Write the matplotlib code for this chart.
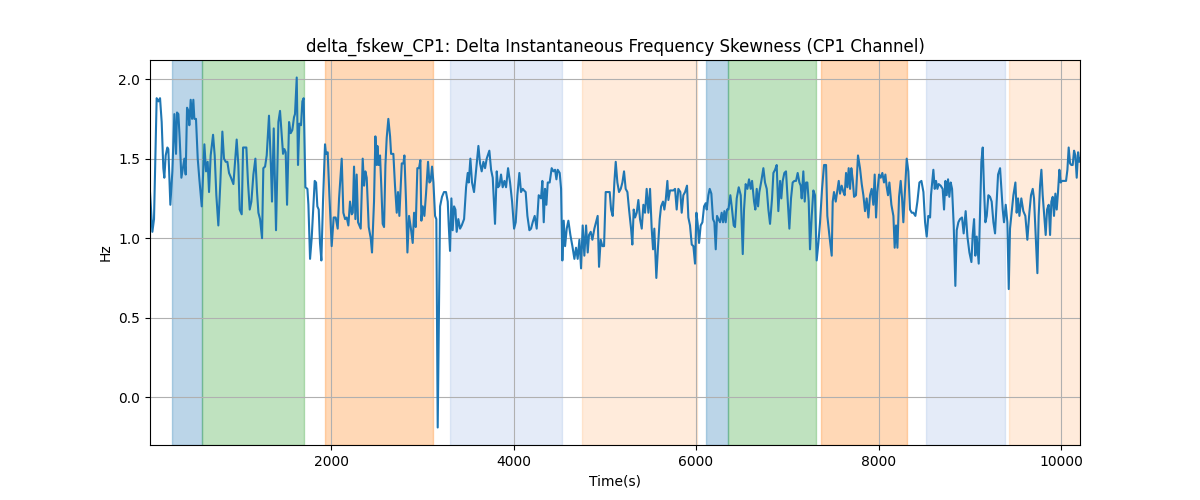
import numpy as np
import matplotlib.pyplot as plt

time_s = [
    16, 42, 60, 89, 108, 126, 144, 162, 173, 188, 206, 217, 239, 261, 283, 301, 312, 327, 341, 360,
    374, 393, 407, 422, 436, 447, 462, 477, 491, 502, 520, 539, 557, 583, 612, 630, 648, 663, 681, 707,
    725, 743, 765, 787, 809, 827, 846, 864, 882, 904, 930, 948, 966, 984, 999, 1021, 1036, 1054, 1072, 1090,
    1109, 1127, 1149, 1171, 1189, 1204, 1222, 1244, 1258, 1277, 1295, 1320, 1342, 1353, 1372, 1397, 1423, 1441, 1459, 1474,
    1489, 1503, 1518, 1540, 1558, 1576, 1594, 1605, 1624, 1638, 1653, 1671, 1686, 1700, 1719, 1741, 1752, 1770, 1788, 1803,
    1821, 1836, 1850, 1865, 1879, 1894, 1912, 1934, 1945, 1963, 1982, 2007, 2029, 2051, 2073, 2088,
    2117, 2135, 2154, 2172, 2190, 2208, 2227, 2238, 2252, 2267, 2281, 2296, 2311, 2325, 2347, 2362, 2376, 2391, 2413, 2435,
    2449, 2471, 2486, 2501, 2508, 2522, 2537, 2552, 2566, 2581, 2596, 2610, 2628, 2647, 2658, 2683, 2701, 2720, 2734, 2749,
    2775, 2793, 2804, 2822, 2837, 2855, 2873, 2895, 2910, 2928, 2946, 2964, 2979, 2990, 3005, 3023, 3041, 3063, 3078, 3092,
    3107, 3122, 3140, 3154, 3169, 3195, 3216, 3238, 3260, 3279, 3290, 3304, 3319, 3333, 3348, 3363, 3377, 3395, 3414, 3432,
    3458, 3480, 3498, 3509, 3527, 3545, 3567, 3589, 3615, 3633, 3651, 3670, 3688, 3706, 3735, 3754, 3772, 3797, 3816, 3830,
    3845, 3863, 3881, 3900, 3918, 3940, 3962, 3984, 4006, 4024, 4042, 4064, 4082, 4101, 4115, 4133, 4152, 4174, 4192, 4210,
    4232, 4254, 4276, 4290,
    4301, 4316, 4331, 4345, 4360, 4375, 4396, 4418, 4437, 4455, 4470, 4484, 4506, 4521, 4535, 4550, 4565, 4583, 4601, 4623,
    4645, 4667, 4685, 4703, 4722, 4740, 4758, 4776, 4795, 4813, 4827, 4846, 4864, 4886, 4904, 4922, 4937, 4955, 4974, 4992,
    5010, 5032, 5054, 5069, 5087, 5105, 5120, 5138, 5156, 5175, 5193, 5211, 5229, 5248, 5266, 5288, 5302, 5317, 5332, 5350,
    5368, 5386, 5405, 5423, 5441, 5459, 5478, 5496, 5514, 5529, 5543, 5565, 5584, 5602, 5617, 5638, 5653, 5668, 5686, 5697,
    5715, 5733, 5752, 5770, 5788, 5806, 5828, 5843, 5861, 5880, 5901, 5916, 5934, 5953, 5971, 5989, 6004, 6018, 6033, 6051,
    6070, 6088, 6106, 6117, 6135, 6150, 6168, 6186, 6201, 6216, 6230, 6245, 6263, 6281, 6296, 6311, 6325, 6340, 6355, 6376,
    6391, 6413, 6427,
    6446, 6468, 6490, 6512, 6526, 6544, 6563, 6581, 6599, 6614, 6636, 6650, 6665, 6680, 6694, 6716, 6738, 6756, 6775, 6793,
    6811, 6833, 6848, 6866, 6884, 6902, 6921, 6935, 6950, 6968, 6986, 7001, 7023, 7041, 7059, 7078, 7096, 7114, 7133, 7147,
    7158, 7176, 7191, 7206, 7220, 7235, 7249, 7268, 7286, 7304, 7322, 7341, 7359, 7381, 7403, 7425, 7439, 7461, 7487, 7498,
    7512, 7531, 7549, 7564, 7578, 7596, 7615, 7629, 7644, 7659, 7673, 7688, 7702, 7717, 7732, 7753, 7775, 7797, 7816, 7834,
    7852, 7870, 7889, 7907, 7925, 7943, 7958, 7973, 7987, 8006, 8024, 8042, 8060, 8075, 8090, 8104, 8119, 8141, 8163, 8177,
    8192, 8207, 8225, 8243, 8258, 8272, 8287, 8309, 8327, 8345, 8364, 8382, 8404, 8426, 8448, 8470, 8492, 8510, 8528, 8546,
    8565,
    8575, 8601, 8616, 8630, 8645, 8659, 8681, 8703, 8718, 8733, 8747, 8762, 8776, 8791, 8806, 8824, 8842, 8857, 8875, 8893,
    8915, 8933, 8955, 8974, 8996, 9018, 9032, 9047, 9061, 9076, 9098, 9112, 9127, 9142, 9156, 9171, 9186, 9204, 9222, 9240,
    9259, 9277, 9295, 9310, 9332, 9346, 9361, 9375, 9394, 9412, 9427, 9441, 9460, 9478, 9500, 9514, 9529, 9544, 9565, 9587,
    9609, 9631, 9653, 9671, 9690, 9704, 9726, 9741, 9755, 9770, 9785, 9799, 9814, 9832, 9847, 9865, 9880, 9894, 9909, 9923,
    9938, 9953, 9967, 9982, 9996, 10011, 10033, 10055, 10070, 10084, 10099, 10113, 10128, 10143, 10157, 10172, 10187, 10201, 10208,
]

skew_hz = [
    1.29, 1.04, 1.12, 1.88, 1.86, 1.88, 1.73, 1.44, 1.38, 1.52, 1.57, 1.56, 1.21, 1.42, 1.78, 1.53, 1.79, 1.78, 1.63, 1.38,
    1.43, 1.50, 1.40, 1.82, 1.80, 1.71, 1.87, 1.75, 1.87, 1.75, 1.75, 1.50, 1.37, 1.20, 1.59, 1.42, 1.48, 1.29, 1.52, 1.65,
    1.52, 1.27, 1.08, 1.35, 1.67, 1.50, 1.48, 1.48, 1.41, 1.38, 1.34, 1.48, 1.62, 1.46, 1.18, 1.15, 1.57, 1.57, 1.57, 1.35,
    1.18, 1.23, 1.40, 1.50, 1.29, 1.16, 1.12, 1.00, 1.44, 1.45, 1.52, 1.77, 1.44, 1.23, 1.69, 1.05, 1.73, 1.80, 1.65, 1.53,
    1.56, 1.54, 1.21, 1.73, 1.66, 1.68, 1.76, 1.78, 2.01, 1.46, 1.72, 1.71, 1.86, 1.88, 1.32, 1.31, 1.21, 0.87, 1.00, 1.16,
    1.36, 1.35, 1.20, 1.18, 0.97, 0.86, 1.23, 1.59, 1.53, 1.54, 1.27, 0.95, 1.13, 1.13, 1.06, 1.25,
    1.50, 1.16, 1.12, 1.13, 1.08, 1.23, 1.15, 1.16, 1.45, 1.12, 1.40, 1.10, 1.08, 1.06, 1.50, 1.33, 1.42, 1.38, 1.07, 1.00,
    0.91, 1.23, 1.64, 1.46, 1.58, 1.46, 1.52, 1.31, 1.09, 1.07, 1.46, 1.63, 1.75, 1.64, 1.53, 1.53, 1.33, 1.16, 1.29, 1.14,
    1.47, 1.47, 1.52, 1.23, 0.91, 1.14, 1.07, 0.97, 1.16, 1.07, 1.44, 1.44, 1.49, 1.11, 1.20, 1.14, 1.28, 1.48, 1.35, 1.36,
    1.45, 1.35, 1.14, 1.12, -0.19, 1.20, 1.26, 1.29, 1.29, 1.23, 1.08, 0.92, 1.25, 1.05, 1.20, 1.18, 1.04, 1.12, 1.06, 1.08,
    1.12, 1.32, 1.41, 1.35, 1.50, 1.35, 1.29, 1.42, 1.58, 1.47, 1.42, 1.48, 1.44, 1.50, 1.55, 1.43, 1.38, 1.09, 1.42, 1.32,
    1.33, 1.40, 1.32, 1.36, 1.32, 1.44, 1.35, 1.23, 1.06, 1.10, 1.27, 1.41, 1.29, 1.31, 1.30, 1.29, 1.14, 1.05, 1.06, 1.10,
    1.14, 1.06, 1.27, 1.26,
    1.25, 1.36, 1.10, 1.31, 1.21, 1.35, 1.35, 1.44, 1.42, 1.43, 1.37, 1.43, 1.41, 1.31, 0.86, 1.11, 0.95, 1.06, 1.11, 1.02,
    0.95, 0.87, 0.94, 0.87, 0.99, 0.81, 1.08, 0.89, 1.08, 0.91, 1.02, 1.04, 0.99, 1.06, 1.10, 1.14, 0.82, 0.99, 0.95, 0.95,
    1.29, 1.29, 1.29, 1.18, 1.14, 1.35, 1.48, 1.35, 1.29, 1.31, 1.35, 1.42, 1.31, 1.29, 1.18, 1.06, 0.96, 1.18, 1.13, 1.16,
    1.24, 1.12, 1.06, 1.21, 1.16, 1.31, 1.16, 1.31, 1.06, 0.93, 1.06, 0.75, 0.95, 1.12, 1.20, 1.23, 1.18, 1.24, 1.36, 1.24,
    1.30, 1.30, 1.30, 1.31, 1.18, 1.31, 1.29, 1.16, 1.27, 1.29, 1.33, 1.13, 1.08, 0.96, 0.95, 0.84, 1.16, 1.09, 0.97, 1.08,
    1.10, 1.20, 1.22, 1.18, 1.27, 1.31, 1.28, 1.12, 1.10, 0.93, 1.14, 1.12, 1.10, 1.16, 1.10, 1.17, 1.10, 1.18, 1.18, 1.27,
    1.20, 1.08, 1.07,
    1.25, 1.32, 1.27, 0.90, 1.18, 1.34, 1.31, 1.37, 1.31, 1.36, 1.23, 1.18, 1.31, 1.20, 1.29, 1.36, 1.44, 1.35, 1.31, 1.18,
    1.09, 1.25, 1.41, 1.43, 1.46, 1.17, 1.36, 1.25, 1.36, 1.41, 1.42, 1.27, 1.06, 1.25, 1.35, 1.36, 1.36, 1.41, 1.35, 1.33,
    1.25, 1.42, 1.23, 1.35, 1.35, 1.23, 0.93, 1.14, 1.30, 1.27, 0.86, 0.97, 1.10, 1.31, 1.46, 1.46, 1.14, 1.02, 0.89, 1.23,
    1.29, 1.23, 1.30, 1.36, 1.28, 1.33, 1.29, 1.27, 1.41, 1.32, 1.44, 1.31, 1.44, 1.37, 1.26, 1.27, 1.52, 1.44, 1.34, 1.27,
    1.17, 1.25, 1.13, 1.27, 1.31, 1.21, 1.40, 1.13, 1.29, 1.40, 1.38, 1.41, 1.35, 1.40, 1.32, 1.27, 1.35, 1.21, 1.14, 0.94,
    1.08, 0.94, 1.26, 1.36, 1.25, 1.10, 1.27, 1.50, 1.42, 1.18, 1.16, 1.16, 1.14, 1.23, 1.35, 1.36, 1.29, 1.10, 1.01, 1.14,
    1.13,
    1.27, 1.43, 1.31, 1.36, 1.31, 1.34, 1.33, 1.31, 1.18, 1.36, 1.27, 1.37, 1.26, 1.35, 1.31, 1.08, 0.70, 1.05, 1.10, 1.12,
    1.13, 1.03, 1.17, 1.01, 0.91, 0.85, 1.02, 1.12, 0.89, 1.01, 0.84, 1.14, 1.48, 1.57, 1.31, 1.10, 1.14, 1.27, 1.26, 1.23,
    1.10, 1.03, 1.23, 1.40, 1.44, 1.31, 1.18, 1.10, 1.21, 1.10, 0.68, 1.06, 1.17, 1.27, 1.35, 1.16, 1.25, 1.14, 1.25, 1.17,
    1.14, 0.99, 1.16, 1.27, 1.31, 1.25, 0.97, 0.78, 1.14, 1.33, 1.43, 1.27, 1.16, 1.02, 1.18, 1.21, 1.02, 1.23, 1.26, 1.14,
    1.28, 1.18, 1.29, 1.43, 1.35, 1.36, 1.36, 1.36, 1.43, 1.57, 1.47, 1.46, 1.46, 1.55, 1.52, 1.38, 1.54, 1.48, 1.50,
]

# shaded segments
span_start = [261, 583, 1934, 3304, 4754, 6110, 6354, 7370, 8524, 9434]
span_end = [583, 1707, 3114, 4528, 6007, 6354, 7315, 8309, 9386, 10208]
span_color = ['tab:blue', 'tab:green', 'tab:orange', '#4a7fd0', 'tab:orange',
              'tab:blue', 'tab:green', 'tab:orange', '#4a7fd0', 'tab:orange']
span_alpha = [0.3, 0.3, 0.3, 0.15, 0.15, 0.3, 0.3, 0.3, 0.15, 0.15]

t = np.array(time_s)
y = np.array(skew_hz)

fig, ax = plt.subplots(figsize=(12, 5))

for s, e, c, a in zip(span_start, span_end, span_color, span_alpha):
    ax.axvspan(s, e, color=c, alpha=a)

ax.plot(t, y, color='tab:blue')
ax.set_xlim(t.min(), t.max())
ax.grid(True)
ax.set_title('delta_fskew_CP1: Delta Instantaneous Frequency Skewness (CP1 Channel)')
ax.set_xlabel('Time(s)')
ax.set_ylabel('Hz')

plt.savefig('out.png')
